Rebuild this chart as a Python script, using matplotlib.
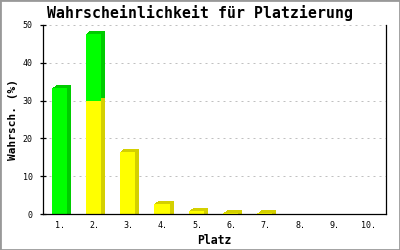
import matplotlib
matplotlib.use("Agg")
import matplotlib.pyplot as plt
import matplotlib.transforms as mtransforms
from matplotlib.patches import Rectangle

places = ["1.", "2.", "3.", "4.", "5.", "6.", "7.", "8.", "9.", "10."]
yellow_part = [0, 30.0, 16.5, 2.7, 0.8, 0.2, 0.15, 0, 0, 0]
green_part = [33.3, 17.7, 0, 0, 0, 0, 0, 0, 0, 0]

GREEN, GREEN_DARK = "#00ff00", "#00cc00"
YELLOW, YELLOW_DARK = "#ffff00", "#d4d000"
MONO = "DejaVu Sans Mono"

fig = plt.figure(figsize=(4, 2.5), dpi=100)
ax = fig.add_axes([43 / 400, 36 / 250, 343 / 400, 189 / 250])
ax.set_xlim(-0.5, len(places) - 0.5)
ax.set_ylim(0, 50)

width = 0.44
xs = [i - 0.03 for i in range(len(places))]
px_per_unit = 189 / 50
depth = 4  # px

# fake 3D: darker copies shifted up/right behind the front face
for k in range(1, depth + 1):
    tr = mtransforms.offset_copy(ax.transData, fig=fig, x=k, y=0.75 * k, units="dots")
    ext = 0.75 * k / px_per_unit
    for x, yv, gv in zip(xs, yellow_part, green_part):
        if yv > 0:
            ax.bar(x, yv + ext, width, bottom=-ext, color=YELLOW_DARK,
                   transform=tr, zorder=2, linewidth=0)
        if gv > 0:
            b = yv if yv > 0 else -ext
            ax.bar(x, yv + gv - b, width, bottom=b, color=GREEN_DARK,
                   transform=tr, zorder=2, linewidth=0)

ax.bar(xs, yellow_part, width, color=YELLOW, zorder=3, linewidth=0)
ax.bar(xs, green_part, width, bottom=yellow_part, color=GREEN, zorder=3, linewidth=0)

ax.set_xticks(range(len(places)))
ax.set_xticklabels(places, fontfamily=MONO, fontsize=6)
ax.set_yticks(range(0, 51, 10))
ax.set_yticklabels([str(v) for v in range(0, 51, 10)], fontfamily=MONO, fontsize=6)
ax.tick_params(axis="x", length=0, pad=5)
ax.tick_params(axis="y", direction="inout", length=5, width=0.9, pad=5)

ax.yaxis.grid(True, color="#c0c0c0", linestyle=(0, (2, 4)), linewidth=0.72, zorder=1)
ax.set_axisbelow(True)
ax.spines["top"].set_visible(False)
for s in ("left", "bottom", "right"):
    ax.spines[s].set_linewidth(0.9)
    ax.spines[s].set_zorder(4)

ax.set_xlabel("Platz", fontfamily=MONO, fontweight="bold", fontsize=8.3, labelpad=3)
ax.set_ylabel("Wahrsch. (%)", fontfamily=MONO, fontweight="bold", fontsize=8, labelpad=3)
fig.text(0.5, 1 - 13 / 250, "Wahrscheinlichkeit für Platzierung", ha="center", va="center",
         fontfamily=MONO, fontweight="bold", fontsize=10.7)

fig.patches.append(Rectangle((0, 0), 1, 1, transform=fig.transFigure, fill=False,
                             edgecolor="#999999", linewidth=2))

fig.savefig("out.png", dpi=100)
